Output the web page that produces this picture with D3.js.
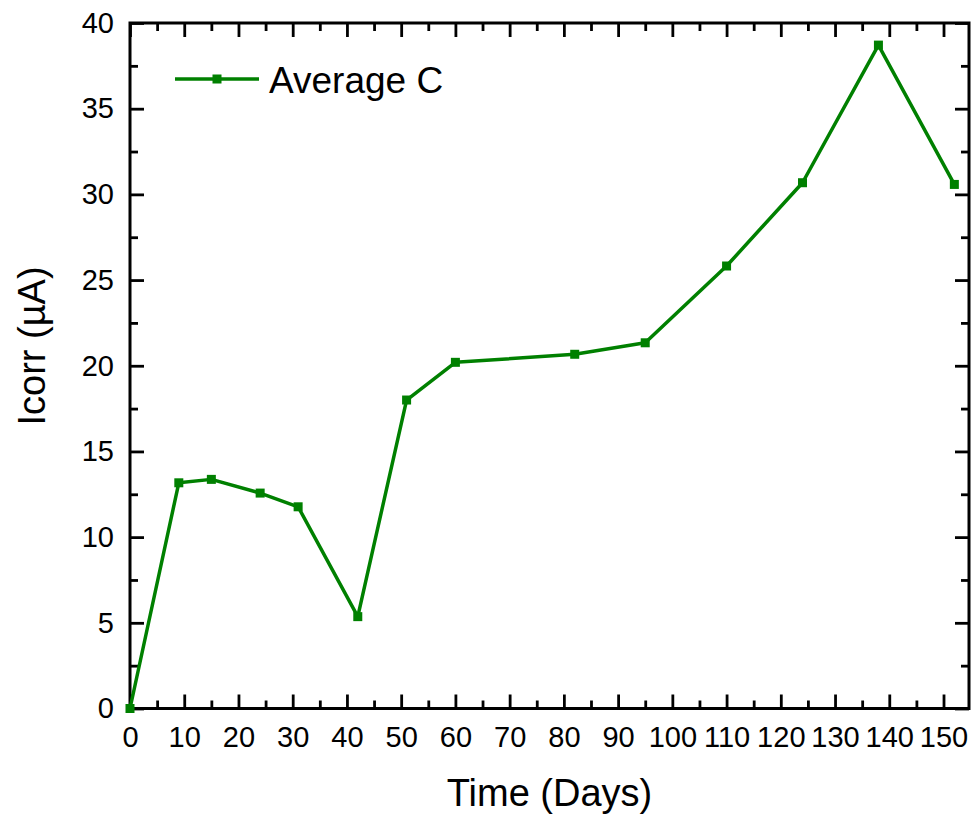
<!DOCTYPE html>
<html>
<head>
<meta charset="utf-8">
<script src="https://cdn.jsdelivr.net/npm/d3@7"></script>
<style>
  html, body { margin: 0; padding: 0; background: #fff; }
  svg { display: block; font-family: Arial, "Liberation Sans", sans-serif; }
</style>
</head>
<body>
<svg id="chart" width="972" height="814"></svg>
<script>
// Corrosion current over time, average of group C
const days = [0, 9, 15, 24, 31, 42, 51, 60, 82, 95, 110, 124, 138, 152];
const icorr = [0, 13.17, 13.37, 12.57, 11.77, 5.36, 18.0, 20.2, 20.67, 21.34, 25.82, 30.68, 38.71, 30.58];
const seriesName = "Average C";
const xTicks = [0, 10, 20, 30, 40, 50, 60, 70, 80, 90, 100, 110, 120, 130, 140, 150];
const yTicks = [0, 5, 10, 15, 20, 25, 30, 35, 40];
const xTitle = "Time (Days)";
const yTitle = "Icorr (\u00B5A)";

const L = 130, R = 969, T = 23, B = 708.5;
const green = "#008000";

const svg = d3.select("#chart");

const x = d3.scaleLinear().domain([0, 154.7]).range([L, R]);
const y = d3.scaleLinear().domain([0, 40]).range([B, T]);

const xMinor = d3.range(5, 155, 10);
const yMinor = d3.range(2.5, 40, 5);

const major = 14, minor = 8;

// Frame axes: ticks point inward on all four sides
function styleAxis(g) {
  g.select(".domain").remove();
  g.selectAll("line").attr("stroke", "#000").attr("stroke-width", 2.8);
  g.selectAll("text").attr("fill", "#000").attr("font-size", 29);
}

// Bottom
svg.append("g").attr("transform", `translate(0,${B})`)
  .call(d3.axisBottom(x).tickValues(xTicks).tickSizeInner(-major).tickSizeOuter(0).tickPadding(18).tickFormat(d3.format("d")))
  .call(styleAxis);
svg.append("g").attr("transform", `translate(0,${B})`)
  .call(d3.axisBottom(x).tickValues(xMinor).tickSizeInner(-minor).tickSizeOuter(0).tickFormat(""))
  .call(styleAxis);
// Top
svg.append("g").attr("transform", `translate(0,${T})`)
  .call(d3.axisTop(x).tickValues(xTicks).tickSizeInner(-major).tickSizeOuter(0).tickFormat(""))
  .call(styleAxis);
svg.append("g").attr("transform", `translate(0,${T})`)
  .call(d3.axisTop(x).tickValues(xMinor).tickSizeInner(-minor).tickSizeOuter(0).tickFormat(""))
  .call(styleAxis);
// Left
svg.append("g").attr("transform", `translate(${L},0)`)
  .call(d3.axisLeft(y).tickValues(yTicks).tickSizeInner(-major).tickSizeOuter(0).tickPadding(16).tickFormat(d3.format("d")))
  .call(styleAxis);
svg.append("g").attr("transform", `translate(${L},0)`)
  .call(d3.axisLeft(y).tickValues(yMinor).tickSizeInner(-minor).tickSizeOuter(0).tickFormat(""))
  .call(styleAxis);
// Right
svg.append("g").attr("transform", `translate(${R},0)`)
  .call(d3.axisRight(y).tickValues(yTicks).tickSizeInner(-major).tickSizeOuter(0).tickFormat(""))
  .call(styleAxis);
svg.append("g").attr("transform", `translate(${R},0)`)
  .call(d3.axisRight(y).tickValues(yMinor).tickSizeInner(-minor).tickSizeOuter(0).tickFormat(""))
  .call(styleAxis);

// Plot frame
svg.append("rect")
  .attr("x", L).attr("y", T).attr("width", R - L).attr("height", B - T)
  .attr("fill", "none").attr("stroke", "#000").attr("stroke-width", 3);

// Series line and square markers
const pts = days.map((d, i) => [d, icorr[i]]);
svg.append("path")
  .datum(pts)
  .attr("fill", "none")
  .attr("stroke", green)
  .attr("stroke-width", 3.5)
  .attr("stroke-linejoin", "round")
  .attr("d", d3.line().x(d => x(d[0])).y(d => y(d[1])));

const ms = 9;
svg.append("g").selectAll("rect")
  .data(pts)
  .join("rect")
  .attr("x", d => x(d[0]) - ms / 2)
  .attr("y", d => y(d[1]) - ms / 2)
  .attr("width", ms).attr("height", ms)
  .attr("fill", green);

// Legend
const lg = svg.append("g");
lg.append("line").attr("x1", 175).attr("x2", 259).attr("y1", 79).attr("y2", 79)
  .attr("stroke", green).attr("stroke-width", 3.5);
lg.append("rect").attr("x", 217 - ms / 2).attr("y", 79 - ms / 2)
  .attr("width", ms).attr("height", ms).attr("fill", green);
lg.append("text").attr("x", 269).attr("y", 93)
  .attr("font-size", 37).attr("fill", "#000").text(seriesName);

// Axis titles
svg.append("text")
  .attr("x", (L + R) / 2).attr("y", 806)
  .attr("text-anchor", "middle").attr("font-size", 38).attr("fill", "#000")
  .text(xTitle);
svg.append("text")
  .attr("transform", `translate(45,346) rotate(-90)`)
  .attr("text-anchor", "middle").attr("font-size", 38).attr("fill", "#000")
  .text(yTitle);
</script>
</body>
</html>
